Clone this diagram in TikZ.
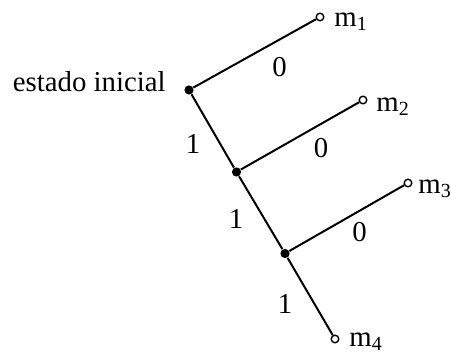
\documentclass[tikz,border=0pt]{standalone}
\usepackage{fontspec}
\setmainfont{Liberation Serif}
\usetikzlibrary{positioning}

\begin{document}
\begin{tikzpicture}[x=0.5pt, y=-0.5pt, font=\fontsize{14.4}{17}\selectfont,
  state/.style={circle, fill=black, inner sep=0pt, minimum size=4.6pt},
  leaf/.style={circle, draw, fill=white, line width=0.7pt, inner sep=0pt, minimum size=3.8pt},
  branch/.style={line width=1pt}]
  \useasboundingbox (0,0) rectangle (451,354);

  % States (filled dots)
  \node[state] (s0) at (189,90) {};
  \node[state] (s1) at (236.5,172) {};
  \node[state] (s2) at (285,253.5) {};

  % Messages (open dots)
  \node[leaf] (m1) at (320,17) {};
  \node[leaf] (m2) at (363,100) {};
  \node[leaf] (m3) at (408,183) {};
  \node[leaf] (m4) at (335,339) {};

  % Branches
  \draw[branch] (s0) -- (m1);
  \draw[branch] (s0) -- (s1);
  \draw[branch] (s1) -- (m2);
  \draw[branch] (s1) -- (s2);
  \draw[branch] (s2) -- (m3);
  \draw[branch] (s2) -- (m4);

  % Texts
  \node[anchor=base east, inner sep=0pt] (init) at (166,91) {estado inicial};
  \node[anchor=base west, inner sep=0pt] (t1) at (334,26) {m\textsubscript{1}};
  \node[anchor=base west, inner sep=0pt] (t2) at (376,111) {m\textsubscript{2}};
  \node[anchor=base west, inner sep=0pt] (t3) at (418,193) {m\textsubscript{3}};
  \node[anchor=base west, inner sep=0pt] (t4) at (349,346) {m\textsubscript{4}};

  % Bit labels
  \node (z1) at (279.5,67) {0};
  \node (z2) at (321,148.5) {0};
  \node (z3) at (359.5,232.5) {0};
  \node (o1) at (193,143.5) {1};
  \node (o2) at (236,218.5) {1};
  \node (o3) at (285,303.5) {1};
\end{tikzpicture}
\end{document}
